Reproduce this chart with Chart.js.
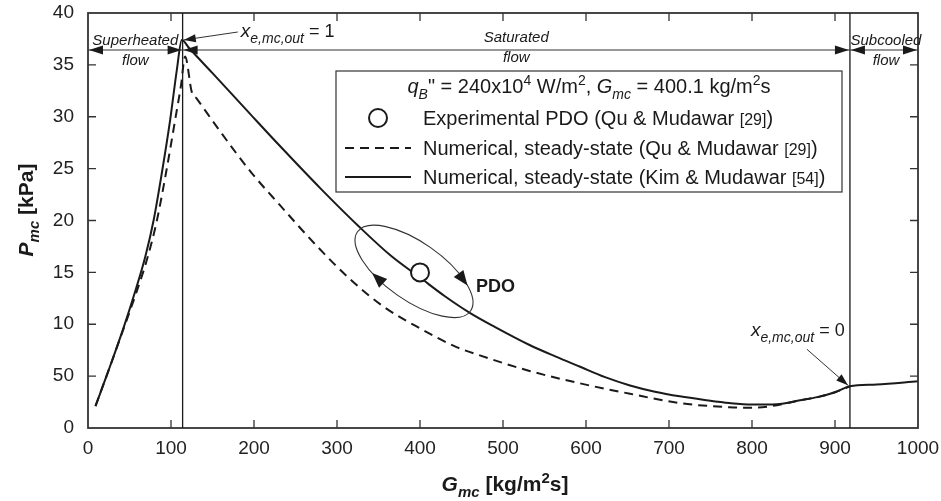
<!DOCTYPE html>
<html lang="en">
<head>
    <meta charset="UTF-8">
    <title>Pressure drop oscillation - demand curve</title>
    <script src="https://cdn.jsdelivr.net/npm/chart.js"></script>
    <style>
        html, body { margin: 0; padding: 0; background: #fff; }
        #chart { display: block; }
    </style>
</head>
<body>
<canvas id="chart" width="941" height="501"></canvas>

<script>
    // Demand curve, Kim & Mudawar model (solid)
    const gmcKim = [9, 25, 43, 57, 69, 79, 89, 99, 107, 113, 122, 150, 195, 231, 280, 328, 365, 400, 430, 460, 490, 532, 563, 593, 623, 653, 683, 713, 743, 773, 800, 830, 858, 880, 900, 918, 950, 1000];
    const pmcKim = [2.1, 5.6, 9.7, 13.2, 16.5, 20, 24.6, 29.7, 34.5, 37.4, 36.6, 34.2, 30.3, 27.2, 23.1, 19.3, 16.6, 14.5, 12.7, 11.1, 9.75, 8.0, 6.9, 5.9, 4.9, 4.1, 3.5, 3.05, 2.7, 2.4, 2.26, 2.3, 2.67, 3.0, 3.45, 4.02, 4.2, 4.5];

    // Demand curve, Qu & Mudawar model (dashed)
    const gmcQu = [9, 25, 43, 58, 72, 83, 94, 105, 112, 117, 125, 131, 160, 197, 231, 275, 315, 356, 400, 444, 472, 532, 593, 653, 713, 773, 800, 830, 858, 880, 900, 918];
    const pmcQu = [2.1, 5.6, 9.6, 13.0, 16.5, 20, 24.6, 29.7, 33.0, 35.8, 32.4, 31.75, 28.5, 24.6, 21.5, 17.6, 14.4, 11.7, 9.6, 7.8, 7.0, 5.5, 4.3, 3.3, 2.4, 2.0, 1.95, 2.2, 2.67, 3.0, 3.45, 4.02];

    // Experimental PDO point
    const gmcExp = [400];
    const pmcExp = [15];

    // Flow regime boundaries (x_e = 1 and x_e = 0) and names
    const regimeBounds = [0, 114, 918, 1000];
    const regimeNames = ['Superheated', 'Saturated', 'Subcooled'];

    // Axis ticks (the 5 kPa tick reads "50" on the original figure)
    const yTickLabels = ['0', '50', '10', '15', '20', '25', '30', '35', '40'];

    const FONT = '"Liberation Sans", Arial, Helvetica, sans-serif';
    const INK = '#1a1a1a';

    const toXY = (xs, ys) => xs.map((x, i) => ({ x: x, y: ys[i] }));

    // draws a string made of pieces (italic / subscript / superscript)
    function drawRich(ctx, x, y, segs, size, align, bold) {
        const fontFor = s => {
            let sz = s.size || size;
            if (s.pos === 'sub' || s.pos === 'sup') sz = Math.round(sz * 0.72);
            return (s.it ? 'italic ' : '') + (bold || s.b ? 'bold ' : '') + sz + 'px ' + FONT;
        };
        let w = 0;
        segs.forEach(s => { ctx.font = fontFor(s); w += ctx.measureText(s.t).width; });
        let cx = align === 'center' ? x - w / 2 : (align === 'right' ? x - w : x);
        ctx.textAlign = 'left';
        ctx.textBaseline = 'alphabetic';
        segs.forEach(s => {
            ctx.font = fontFor(s);
            const dy = s.pos === 'sub' ? size * 0.3 : (s.pos === 'sup' ? -size * 0.38 : 0);
            ctx.fillText(s.t, cx, y + dy);
            cx += ctx.measureText(s.t).width;
        });
        return w;
    }

    function arrowHead(ctx, x1, y1, x2, y2, len, half) {
        const a = Math.atan2(y2 - y1, x2 - x1);
        ctx.beginPath();
        ctx.moveTo(x2, y2);
        ctx.lineTo(x2 - len * Math.cos(a) + half * Math.sin(a), y2 - len * Math.sin(a) - half * Math.cos(a));
        ctx.lineTo(x2 - len * Math.cos(a) - half * Math.sin(a), y2 - len * Math.sin(a) + half * Math.cos(a));
        ctx.closePath();
        ctx.fill();
    }

    function arrow(ctx, x1, y1, x2, y2, len, half) {
        ctx.beginPath();
        ctx.moveTo(x1, y1);
        ctx.lineTo(x2, y2);
        ctx.stroke();
        arrowHead(ctx, x1, y1, x2, y2, len, half);
    }

    const decorations = {
        id: 'decorations',
        afterDatasetsDraw(chart) {
            const ctx = chart.ctx;
            const area = chart.chartArea;
            const xs = chart.scales.x, ys = chart.scales.y;
            const px = v => xs.getPixelForValue(v);
            const py = v => ys.getPixelForValue(v);

            ctx.save();
            ctx.fillStyle = INK;
            ctx.strokeStyle = INK;

            // frame with inward ticks on all four sides
            ctx.lineWidth = 1.8;
            ctx.strokeStyle = '#333';
            ctx.strokeRect(area.left, area.top, area.right - area.left, area.bottom - area.top);
            ctx.lineWidth = 1.3;
            ctx.beginPath();
            for (let g = 100; g < 1000; g += 100) {
                ctx.moveTo(px(g), area.bottom); ctx.lineTo(px(g), area.bottom - 8);
                ctx.moveTo(px(g), area.top); ctx.lineTo(px(g), area.top + 8);
            }
            for (let p = 5; p < 40; p += 5) {
                ctx.moveTo(area.left, py(p)); ctx.lineTo(area.left + 8, py(p));
                ctx.moveTo(area.right, py(p)); ctx.lineTo(area.right - 8, py(p));
            }
            ctx.stroke();

            // regime boundaries
            ctx.strokeStyle = INK;
            ctx.lineWidth = 1.3;
            ctx.beginPath();
            [regimeBounds[1], regimeBounds[2]].forEach(g => {
                ctx.moveTo(px(g), area.top); ctx.lineTo(px(g), area.bottom);
            });
            ctx.stroke();

            // double arrows spanning each regime
            const yArrow = area.top + 37;
            ctx.lineWidth = 1.2;
            ctx.strokeStyle = '#333';
            ctx.fillStyle = INK;
            for (let i = 0; i < 3; i++) {
                const a = px(regimeBounds[i]), b = px(regimeBounds[i + 1]);
                ctx.beginPath();
                ctx.moveTo(a, yArrow); ctx.lineTo(b, yArrow);
                ctx.stroke();
                arrowHead(ctx, b, yArrow, a + 1, yArrow, 14, 4.5);
                arrowHead(ctx, a, yArrow, b - 1, yArrow, 14, 4.5);
            }

            // regime labels
            const labelY = [area.top + 32, area.top + 29, area.top + 32];
            for (let i = 0; i < 3; i++) {
                const c = (px(regimeBounds[i]) + px(regimeBounds[i + 1])) / 2 + (i === 2 ? 2 : 0);
                ctx.font = 'italic 15px ' + FONT;
                ctx.textAlign = 'center';
                ctx.textBaseline = 'alphabetic';
                ctx.fillText(regimeNames[i], c, labelY[i]);
                ctx.fillText('flow', c, labelY[i] + 20);
            }

            // quality markers
            ctx.lineWidth = 1;
            arrow(ctx, px(113) + 56, area.top + 19, px(113) + 2, py(37.4), 12, 4);
            drawRich(ctx, px(113) + 59, area.top + 24, [
                { t: 'x', it: true, size: 19 }, { t: 'e,mc,out', it: true, pos: 'sub', size: 19 }, { t: ' = 1', size: 18 }
            ], 19, 'left');

            arrow(ctx, px(918) - 43, py(4.02) - 37, px(918) - 2, py(4.02) - 1, 12, 4);
            drawRich(ctx, px(918) - 99, py(4.02) - 50, [
                { t: 'x', it: true, size: 19 }, { t: 'e,mc,out', it: true, pos: 'sub', size: 19 }, { t: ' = 0', size: 18 }
            ], 19, 'left');

            // PDO loop around the experimental point
            const ecx = px(gmcExp[0]) - 6, ecy = py(pmcExp[0]) - 1;
            const ea = 69, eb = 29, th = 35 * Math.PI / 180;
            ctx.lineWidth = 1.1;
            ctx.beginPath();
            ctx.ellipse(ecx, ecy, ea, eb, th, 0, Math.PI * 2);
            ctx.stroke();
            const onEllipse = t => ({
                x: ecx + ea * Math.cos(t) * Math.cos(th) - eb * Math.sin(t) * Math.sin(th),
                y: ecy + ea * Math.cos(t) * Math.sin(th) + eb * Math.sin(t) * Math.cos(th)
            });
            [112, -48].forEach(deg => {
                const t = deg * Math.PI / 180;
                const p0 = onEllipse(t - 0.25), p1 = onEllipse(t + 0.12);
                arrowHead(ctx, p0.x, p0.y, p1.x, p1.y, 15, 6);
            });
            ctx.font = 'bold 18px ' + FONT;
            ctx.textAlign = 'left';
            ctx.fillText('PDO', px(gmcExp[0]) + 56, py(pmcExp[0]) + 20);

            // legend
            const lx = 336, ly = 71, lw = 506, lh = 121;
            ctx.fillStyle = '#fff';
            ctx.fillRect(lx, ly, lw, lh);
            ctx.strokeStyle = '#333';
            ctx.lineWidth = 1.2;
            ctx.strokeRect(lx, ly, lw, lh);
            ctx.fillStyle = INK;
            drawRich(ctx, lx + lw / 2, ly + 22, [
                { t: 'q', it: true }, { t: 'B', it: true, pos: 'sub' }, { t: '" = 240x10' }, { t: '4', pos: 'sup' },
                { t: ' W/m' }, { t: '2', pos: 'sup' }, { t: ', ' }, { t: 'G', it: true }, { t: 'mc', it: true, pos: 'sub' },
                { t: ' = 400.1 kg/m' }, { t: '2', pos: 'sup' }, { t: 's' }
            ], 20, 'center');

            const symX = lx + 42, txtX = lx + 87;
            const rows = [ly + 47, ly + 77, ly + 106];
            ctx.strokeStyle = INK;
            ctx.lineWidth = 2;
            ctx.fillStyle = '#fff';
            ctx.beginPath();
            ctx.arc(symX, rows[0], 9, 0, Math.PI * 2);
            ctx.fill();
            ctx.stroke();
            ctx.setLineDash([9, 6]);
            ctx.beginPath();
            ctx.moveTo(lx + 9, rows[1]); ctx.lineTo(lx + 75, rows[1]);
            ctx.stroke();
            ctx.setLineDash([]);
            ctx.beginPath();
            ctx.moveTo(lx + 9, rows[2]); ctx.lineTo(lx + 75, rows[2]);
            ctx.stroke();

            ctx.fillStyle = INK;
            const legendText = [
                ['Experimental PDO (Qu & Mudawar ', '[29]', ')'],
                ['Numerical, steady-state (Qu & Mudawar ', '[29]', ')'],
                ['Numerical, steady-state (Kim & Mudawar ', '[54]', ')']
            ];
            legendText.forEach((parts, i) => {
                drawRich(ctx, txtX, rows[i] + 7, [
                    { t: parts[0] }, { t: parts[1], size: 16 }, { t: parts[2] }
                ], 20, 'left');
            });

            // axis titles
            ctx.fillStyle = INK;
            drawRich(ctx, (area.left + area.right) / 2 + 2, 491, [
                { t: 'G', it: true }, { t: 'mc', it: true, pos: 'sub' }, { t: ' [kg/m' }, { t: '2', pos: 'sup' }, { t: 's]' }
            ], 21, 'center', true);

            ctx.translate(33, 210);
            ctx.rotate(-Math.PI / 2);
            drawRich(ctx, 0, 0, [
                { t: 'P', it: true }, { t: 'mc', it: true, pos: 'sub' }, { t: ' [kPa]' }
            ], 21, 'center', true);

            ctx.restore();
        }
    };

    new Chart(document.getElementById('chart'), {
        type: 'scatter',
        data: {
            datasets: [
                {
                    label: 'Experimental PDO (Qu & Mudawar [29])',
                    data: toXY(gmcExp, pmcExp),
                    pointRadius: 9,
                    pointBorderWidth: 2,
                    pointBackgroundColor: '#fff',
                    pointBorderColor: INK,
                    showLine: false
                },
                {
                    label: 'Numerical, steady-state (Kim & Mudawar [54])',
                    data: toXY(gmcKim, pmcKim),
                    showLine: true,
                    borderColor: INK,
                    borderWidth: 2,
                    pointRadius: 0,
                    cubicInterpolationMode: 'monotone'
                },
                {
                    label: 'Numerical, steady-state (Qu & Mudawar [29])',
                    data: toXY(gmcQu, pmcQu),
                    showLine: true,
                    borderColor: INK,
                    borderWidth: 2,
                    borderDash: [9, 6],
                    pointRadius: 0,
                    cubicInterpolationMode: 'monotone'
                }
            ]
        },
        options: {
            responsive: false,
            animation: false,
            layout: { padding: { left: 0, top: 13, right: 23, bottom: 0 } },
            plugins: {
                legend: { display: false },
                tooltip: { enabled: false }
            },
            scales: {
                x: {
                    type: 'linear',
                    min: 0, max: 1000,
                    ticks: {
                        stepSize: 100, color: '#222', padding: 9, font: { size: 19, family: FONT }, maxRotation: 0,
                        callback: v => String(v)
                    },
                    grid: { display: false, drawTicks: false },
                    border: { display: false },
                    afterFit(scale) {
                        scale.height = 73;
                        scale.paddingLeft = 0;
                        scale.paddingRight = 0;
                    }
                },
                y: {
                    min: 0, max: 40,
                    ticks: {
                        stepSize: 5, color: '#222', padding: 14, font: { size: 19, family: FONT },
                        callback: v => yTickLabels[Math.round(v / 5)]
                    },
                    grid: { display: false, drawTicks: false },
                    border: { display: false },
                    afterFit(scale) {
                        scale.width = 88;
                        scale.paddingTop = 0;
                        scale.paddingBottom = 0;
                    }
                }
            }
        },
        plugins: [decorations]
    });
</script>
</body>
</html>
